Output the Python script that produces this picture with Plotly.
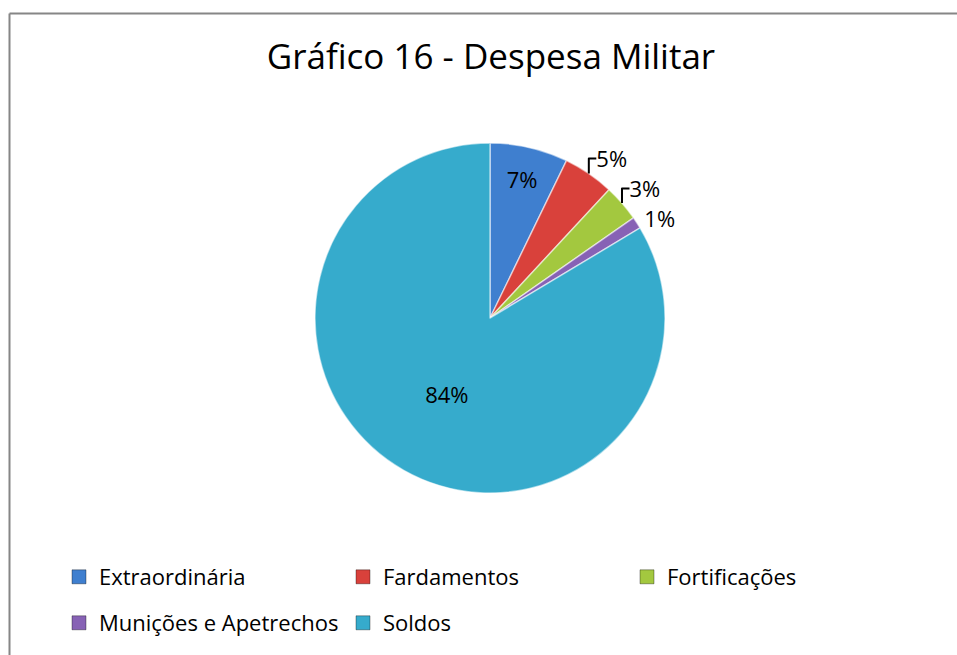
import plotly.graph_objects as go

categories = ["Extraordinária", "Fardamentos", "Fortificações", "Munições e Apetrechos", "Soldos"]
values = [7.2, 4.7, 3.4, 1.1, 83.6]
colors = ["#3F7FCF", "#D9413B", "#A3C83F", "#8762B5", "#36ABCC"]
text_positions = ["inside", "outside", "outside", "outside", "inside"]
legend_rows = ["legend", "legend", "legend", "legend2", "legend2"]
title_text = "Gráfico 16 - Despesa Militar"

W, H = 957, 655
FONT = "Open Sans"
CX, CY, R = 490, 318, 175

fig = go.Figure()
fig.add_trace(go.Pie(
    labels=categories,
    values=values,
    sort=False,
    direction="clockwise",
    rotation=0,
    marker=dict(colors=colors, line=dict(color="rgba(255,255,255,0.55)", width=1.5)),
    texttemplate="%{percent:.0%}",
    textposition=text_positions,
    insidetextorientation="horizontal",
    textfont=dict(family=FONT, size=22, color="#000000"),
    outsidetextfont=dict(family=FONT, size=22, color="#000000"),
    insidetextfont=dict(family=FONT, size=22, color="#000000"),
    hoverinfo="label+percent",
    showlegend=False,
    domain=dict(x=[(CX - R) / W, (CX + R) / W], y=[(H - CY - R) / H, (H - CY + R) / H]),
    automargin=False,
))

# legend entries (one per category), arranged in two rows like the original
for cat, col, lg in zip(categories, colors, legend_rows):
    fig.add_trace(go.Scatter(
        x=[None], y=[None], mode="markers", name=cat, legend=lg,
        marker=dict(symbol="square", size=14, color=col,
                    line=dict(color="rgba(0,0,0,0.35)", width=1)),
        hoverinfo="skip",
    ))

legend_common = dict(orientation="h", xanchor="left", yanchor="middle",
                     font=dict(family=FONT, size=22, color="#000000"),
                     entrywidth=239, entrywidthmode="pixels", itemwidth=30,
                     traceorder="normal", itemclick=False, itemdoubleclick=False,
                     bgcolor="rgba(0,0,0,0)")

fig.update_layout(
    width=W, height=H,
    margin=dict(l=0, r=0, t=0, b=0),
    paper_bgcolor="white",
    plot_bgcolor="white",
    font=dict(family=FONT, color="#000000"),
    xaxis=dict(visible=False, fixedrange=True),
    yaxis=dict(visible=False, fixedrange=True),
    title=dict(text=title_text, x=0.513, xanchor="center", y=1 - 57 / H, yanchor="middle",
               font=dict(family=FONT, size=35, color="#000000")),
    uniformtext=dict(minsize=22, mode="show"),
    legend=dict(x=59 / W, y=1 - 577 / H, **legend_common),
    legend2=dict(x=59 / W, y=1 - 623 / H, **legend_common),
    shapes=[
        dict(type="line", xref="paper", yref="paper", x0=9.5 / W, x1=1.01, y0=1 - 13.5 / H, y1=1 - 13.5 / H,
             line=dict(color="#868686", width=2)),
        dict(type="line", xref="paper", yref="paper", x0=9.5 / W, x1=9.5 / W, y0=1 - 13.5 / H, y1=-0.01,
             line=dict(color="#868686", width=2)),
    ],
)

fig.write_html("out.html", config={"displayModeBar": False},
               post_script="document.body.style.margin='0px';")
